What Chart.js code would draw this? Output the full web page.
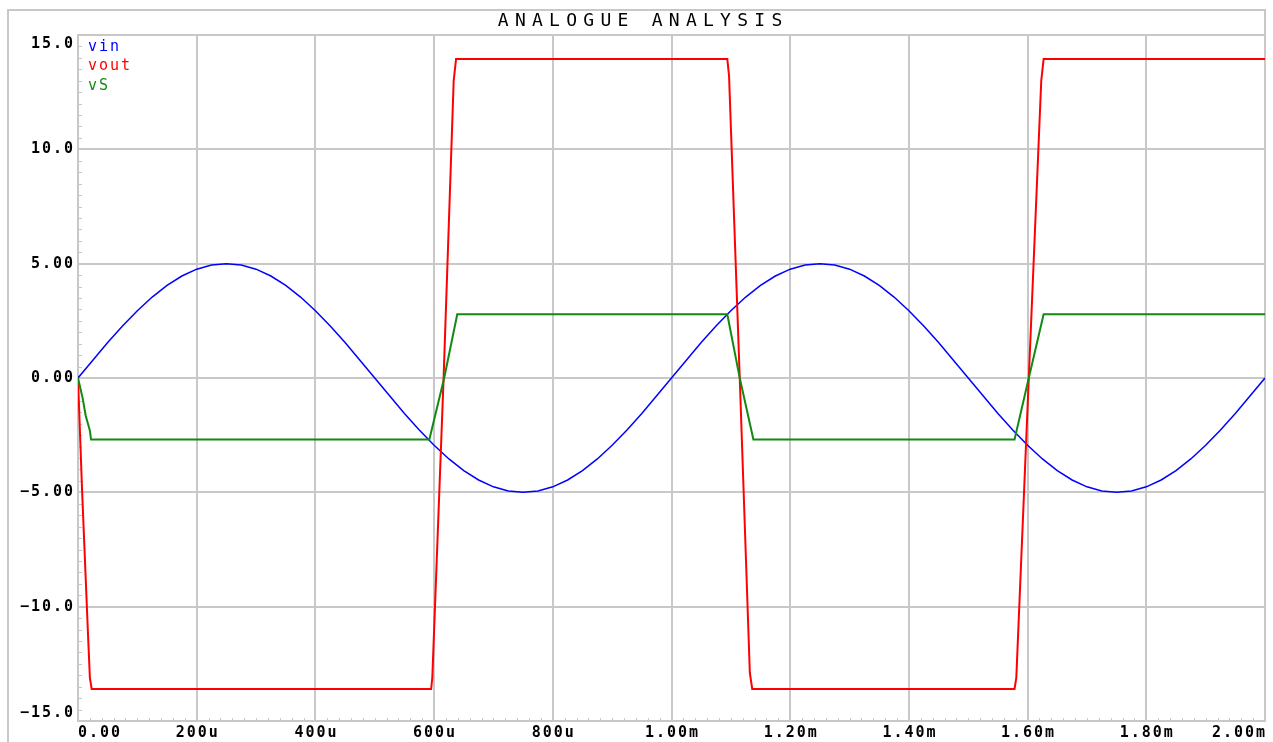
<!DOCTYPE html>
<html>
<head>
<meta charset="utf-8">
<title>Analogue Analysis</title>
<script src="https://cdn.jsdelivr.net/npm/chart.js@4.4.1/dist/chart.umd.min.js"></script>
<style>
  html, body { margin: 0; padding: 0; background: #fff; }
  canvas { display: block; }
</style>
</head>
<body>
<canvas id="graph" width="1273" height="742"></canvas>
<script>
// time in microseconds
const vinTime = [
  0, 25, 50, 75, 100, 125, 150, 175, 200, 225, 250, 275, 300, 325, 350, 375, 400, 425, 450, 475,
  500, 525, 550, 575, 600, 625, 650, 675, 700, 725, 750, 775, 800, 825, 850, 875, 900, 925, 950, 975,
  1000, 1025, 1050, 1075, 1100, 1125, 1150, 1175, 1200, 1225, 1250, 1275, 1300, 1325, 1350, 1375, 1400, 1425, 1450, 1475,
  1500, 1525, 1550, 1575, 1600, 1625, 1650, 1675, 1700, 1725, 1750, 1775, 1800, 1825, 1850, 1875, 1900, 1925, 1950, 1975,
  2000
];
const vinValues = [
  0, 0.78, 1.55, 2.27, 2.94, 3.54, 4.05, 4.46, 4.76, 4.94, 5.00, 4.94, 4.76, 4.46, 4.05, 3.54, 2.94, 2.27, 1.55, 0.78,
  0, -0.78, -1.55, -2.27, -2.94, -3.54, -4.05, -4.46, -4.76, -4.94, -5.00, -4.94, -4.76, -4.46, -4.05, -3.54, -2.94, -2.27, -1.55, -0.78,
  0, 0.78, 1.55, 2.27, 2.94, 3.54, 4.05, 4.46, 4.76, 4.94, 5.00, 4.94, 4.76, 4.46, 4.05, 3.54, 2.94, 2.27, 1.55, 0.78,
  0, -0.78, -1.55, -2.27, -2.94, -3.54, -4.05, -4.46, -4.76, -4.94, -5.00, -4.94, -4.76, -4.46, -4.05, -3.54, -2.94, -2.27, -1.55, -0.78,
  0
];

// comparator output, sampled at its edges
const voutTime = [0, 7, 17, 20, 23, 595, 597, 616, 633, 637, 1094, 1097, 1115, 1132, 1136, 1578, 1581, 1602, 1623, 1627, 2000];
const voutValues = [0, -5, -11.3, -13.1, -13.6, -13.6, -13.1, 0, 13.0, 13.95, 13.95, 13.2, 0, -12.9, -13.6, -13.6, -13.1, 0, 13.0, 13.95, 13.95];

// feedback divider node
const vsTime = [0, 8, 13, 20, 22, 592, 617, 639, 1094, 1115, 1138, 1578, 1602, 1627, 2000];
const vsValues = [0, -0.9, -1.65, -2.3, -2.69, -2.69, 0, 2.79, 2.79, 0, -2.69, -2.69, 0, 2.79, 2.79];

const xTickValues = [0, 200, 400, 600, 800, 1000, 1200, 1400, 1600, 1800, 2000];
const xTickLabels = ['0.00', '200u', '400u', '600u', '800u', '1.00m', '1.20m', '1.40m', '1.60m', '1.80m', '2.00m'];
const yTickValues = [15, 10, 5, 0, -5, -10, -15];
const yTickLabels = ['15.0', '10.0', '5.00', '0.00', '−5.00', '−10.0', '−15.0'];

const traceNames = ['vin', 'vout', 'vS'];
const traceColors = ['#0000ff', '#ff0000', '#128a12'];

const GRID = '#c8c8c8';
const MONO = '"DejaVu Sans Mono", "Liberation Mono", monospace';

function pairs(xs, ys) {
  return xs.map((x, i) => ({ x: x, y: ys[i] }));
}

// draws text one glyph at a time with a fixed advance
function spacedText(ctx, text, x, y, advance, align) {
  const chars = Array.from(text);
  const last = ctx.measureText(chars[chars.length - 1]).width;
  const total = advance * (chars.length - 1) + last;
  let start = x;
  if (align === 'right') start = x - total;
  else if (align === 'center') start = x - total / 2;
  chars.forEach((ch, i) => ctx.fillText(ch, start + i * advance, y));
}

const decorations = {
  id: 'decorations',
  beforeDatasetsDraw(chart) {
    const ctx = chart.ctx;
    const xs = chart.scales.x, ys = chart.scales.y;
    const area = chart.chartArea;
    ctx.save();
    ctx.strokeStyle = GRID;
    ctx.lineWidth = 1;
    ctx.beginPath();
    for (let v = -15; v <= 15; v += 0.5) {
      const py = Math.round(ys.getPixelForValue(v)) + 0.5;
      ctx.moveTo(area.left, py);
      ctx.lineTo(area.left + 4, py);
    }
    for (let t = 0; t <= 2000; t += 20) {
      const px = Math.round(xs.getPixelForValue(t)) + 0.5;
      ctx.moveTo(px, area.bottom);
      ctx.lineTo(px, area.bottom - 3);
    }
    ctx.stroke();
    ctx.restore();
  },
  afterDraw(chart) {
    const ctx = chart.ctx;
    const xs = chart.scales.x, ys = chart.scales.y;
    const area = chart.chartArea;
    ctx.save();

    // outer frame
    ctx.strokeStyle = GRID;
    ctx.lineWidth = 2;
    ctx.beginPath();
    ctx.moveTo(8, chart.height);
    ctx.lineTo(8, 10);
    ctx.lineTo(area.right, 10);
    ctx.lineTo(area.right, area.top);
    ctx.stroke();

    ctx.fillStyle = '#000';
    ctx.textBaseline = 'middle';
    ctx.textAlign = 'left';

    // title
    ctx.font = '18px ' + MONO;
    spacedText(ctx, 'ANALOGUE ANALYSIS', 640, 21, 17.1, 'center');

    // value axis labels
    ctx.font = 'bold 15px ' + MONO;
    yTickValues.forEach((v, i) => {
      let py = ys.getPixelForValue(v);
      if (i === 0) py += 9;
      if (i === yTickValues.length - 1) py -= 8;
      spacedText(ctx, yTickLabels[i], area.left - 5, py, 11, 'right');
    });

    // time axis labels
    xTickValues.forEach((t, i) => {
      const px = xs.getPixelForValue(t);
      let align = 'center';
      if (i === 0) align = 'left';
      if (i === xTickValues.length - 1) align = 'right';
      spacedText(ctx, xTickLabels[i], align === 'right' ? area.right : px, 733, 11, align);
    });

    // trace names
    ctx.font = '15px ' + MONO;
    chart.data.datasets.forEach((ds, i) => {
      ctx.fillStyle = ds.borderColor;
      spacedText(ctx, ds.label, area.left + 10, 47 + i * 19.5, 11, 'left');
    });

    ctx.restore();
  }
};

new Chart(document.getElementById('graph'), {
  type: 'line',
  data: {
    datasets: [
      {
        label: traceNames[0],
        data: pairs(vinTime, vinValues),
        borderColor: traceColors[0],
        borderWidth: 1.5,
        order: 2
      },
      {
        label: traceNames[1],
        data: pairs(voutTime, voutValues),
        borderColor: traceColors[1],
        borderWidth: 2,
        order: 1
      },
      {
        label: traceNames[2],
        data: pairs(vsTime, vsValues),
        borderColor: traceColors[2],
        borderWidth: 2,
        order: 0
      }
    ]
  },
  options: {
    responsive: false,
    animation: false,
    events: [],
    layout: {
      padding: { left: 78, top: 35, right: 8, bottom: 21 }
    },
    elements: {
      point: { radius: 0 },
      line: { tension: 0, fill: false }
    },
    plugins: {
      legend: { display: false },
      title: { display: false },
      tooltip: { enabled: false }
    },
    scales: {
      x: {
        type: 'linear',
        min: 0,
        max: 2000,
        ticks: { display: false, stepSize: 200 },
        grid: { color: GRID, lineWidth: 2, drawTicks: false },
        border: { display: true, color: GRID, width: 2 }
      },
      y: {
        type: 'linear',
        min: -15,
        max: 15,
        ticks: { display: false, stepSize: 5 },
        grid: { color: GRID, lineWidth: 2, drawTicks: false },
        border: { display: true, color: GRID, width: 2 }
      }
    }
  },
  plugins: [decorations]
});
</script>
</body>
</html>
